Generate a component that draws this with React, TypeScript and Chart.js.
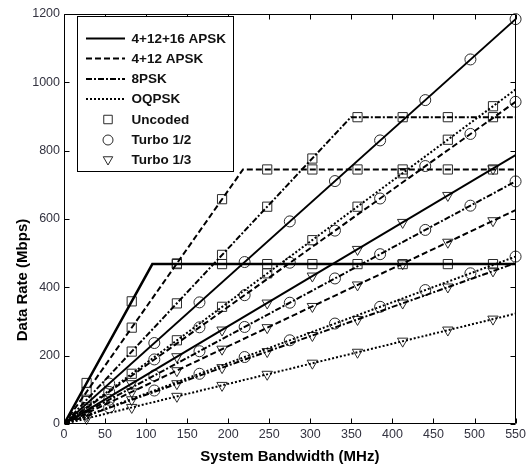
import React, { useEffect, useRef } from 'react';
import { Chart, registerables } from 'chart.js';

Chart.register(...registerables);

const FONT = "Arial, 'Liberation Sans', Helvetica, sans-serif";

// ---- marker x positions (MHz) ----
const markerXOffset = [27.5, 82.5, 137.5, 192.5, 247.5, 302.5, 357.5, 412.5, 467.5, 522.5];
const markerXEven = [55, 110, 165, 220, 275, 330, 385, 440, 495, 550];

// ---- Uncoded (squares), values at markerXOffset ----
const apsk32Uncoded = [120, 359, 468, 468, 468, 468, 468, 468, 468, 468];
const apsk16Uncoded = [94, 282, 470, 658, 745, 745, 745, 745, 745, 745];
const psk8Uncoded = [71, 212, 353, 495, 636, 777, 898, 898, 898, 898];
const oqpskUncoded = [49, 147, 245, 343, 441, 538, 636, 734, 832, 930];

// ---- Turbo 1/2 (circles), values at markerXEven ----
const apsk32Turbo12 = [118.5, 237, 356, 474, 593, 711, 830, 948, 1067, 1185];
const apsk16Turbo12 = [94, 189, 283, 377, 472, 566, 660, 755, 849, 943];
const psk8Turbo12 = [71, 142, 213, 284, 355, 426, 497, 568, 639, 710];
const oqpskTurbo12 = [49, 98, 147, 196, 245, 294, 343, 392, 441, 490];

// ---- Turbo 1/3 (triangles), values at markerXOffset ----
const apsk32Turbo13 = [39, 118, 197, 275, 354, 433, 511, 590, 669, 747];
const apsk16Turbo13 = [31, 94, 156, 219, 282, 344, 407, 469, 532, 595];
const psk8Turbo13 = [24, 71, 118, 165, 212, 259, 306, 354, 401, 448];
const oqpskTurbo13 = [16, 48.5, 81, 113, 145.5, 178, 210, 242.5, 275, 307];

// ---- line paths [x, y] ----
const apsk32UncodedPath = [[0, 0], [107.6, 468], [550, 468]];
const apsk16UncodedPath = [[0, 0], [218, 745], [550, 745]];
const psk8UncodedPath = [[0, 0], [349.4, 898], [550, 898]];
const oqpskUncodedPath = [[0, 0], [550, 979]];
const apsk32Turbo12Path = [[0, 0], [550, 1185]];
const apsk16Turbo12Path = [[0, 0], [550, 943]];
const psk8Turbo12Path = [[0, 0], [550, 710]];
const oqpskTurbo12Path = [[0, 0], [550, 490]];
const apsk32Turbo13Path = [[0, 0], [550, 787]];
const apsk16Turbo13Path = [[0, 0], [550, 626]];
const psk8Turbo13Path = [[0, 0], [550, 471]];
const oqpskTurbo13Path = [[0, 0], [550, 323]];

// ---- legend texts ----
const modulationLabels = ['4+12+16 APSK', '4+12 APSK', '8PSK', 'OQPSK'];
const codingLabels = ['Uncoded', 'Turbo 1/2', 'Turbo 1/3'];

// ---- axis texts ----
const xTitle = 'System Bandwidth (MHz)';
const yTitle = 'Data Rate (Mbps)';

const DASH_SOLID: number[] = [];
const DASH_DASHED = [6, 3];
const DASH_DASHDOT = [6, 2, 2, 2];
const DASH_DOTTED = [2, 2];
const modulationDashes = [DASH_SOLID, DASH_DASHED, DASH_DASHDOT, DASH_DOTTED];
const codingStyles = ['rect', 'circle', 'triangle'];

type S = { path: number[][]; xs: number[]; ys: number[]; mod: number; cod: number; width?: number };

const series: S[] = [
  { path: apsk32UncodedPath, xs: markerXOffset, ys: apsk32Uncoded, mod: 0, cod: 0, width: 2.5 },
  { path: apsk16UncodedPath, xs: markerXOffset, ys: apsk16Uncoded, mod: 1, cod: 0 },
  { path: psk8UncodedPath, xs: markerXOffset, ys: psk8Uncoded, mod: 2, cod: 0 },
  { path: oqpskUncodedPath, xs: markerXOffset, ys: oqpskUncoded, mod: 3, cod: 0 },
  { path: apsk32Turbo12Path, xs: markerXEven, ys: apsk32Turbo12, mod: 0, cod: 1 },
  { path: apsk16Turbo12Path, xs: markerXEven, ys: apsk16Turbo12, mod: 1, cod: 1 },
  { path: psk8Turbo12Path, xs: markerXEven, ys: psk8Turbo12, mod: 2, cod: 1 },
  { path: oqpskTurbo12Path, xs: markerXEven, ys: oqpskTurbo12, mod: 3, cod: 1 },
  { path: apsk32Turbo13Path, xs: markerXOffset, ys: apsk32Turbo13, mod: 0, cod: 2 },
  { path: apsk16Turbo13Path, xs: markerXOffset, ys: apsk16Turbo13, mod: 1, cod: 2 },
  { path: psk8Turbo13Path, xs: markerXOffset, ys: psk8Turbo13, mod: 2, cod: 2 },
  { path: oqpskTurbo13Path, xs: markerXOffset, ys: oqpskTurbo13, mod: 3, cod: 2 },
];

const markerRadius = [6.5, 5.5, 6];
const MARKER_COLOR = '#2a2a2a';

function drawMarker(ctx: CanvasRenderingContext2D, style: string, x: number, y: number, r: number) {
  ctx.beginPath();
  if (style === 'rect') {
    const s = r * Math.SQRT1_2;
    ctx.rect(x - s, y - s, 2 * s, 2 * s);
  } else if (style === 'circle') {
    ctx.arc(x, y, r, 0, Math.PI * 2);
  } else {
    const h = r * Math.sin(Math.PI / 3);
    ctx.moveTo(x, y + r);
    ctx.lineTo(x + h, y - r / 2);
    ctx.lineTo(x - h, y - r / 2);
    ctx.closePath();
  }
  ctx.stroke();
}

const framePlugin = {
  id: 'frameAndLegend',
  afterDatasetsDraw(chart: any) {
    const { ctx, chartArea, scales } = chart;
    const { left, right, top, bottom } = chartArea;
    const xs = scales.x;
    const ys = scales.y;
    ctx.save();
    ctx.strokeStyle = '#000';
    ctx.lineWidth = 1;
    ctx.setLineDash([]);
    const L = Math.round(left) + 0.5;
    const R = Math.round(right) - 0.5;
    const T = Math.round(top) + 0.5;
    const B = Math.round(bottom) - 0.5;
    ctx.beginPath();
    ctx.rect(L, T, R - L, B - T);
    ctx.stroke();
    const tl = 5;
    ctx.beginPath();
    xs.ticks.forEach((t: any) => {
      const px = Math.round(xs.getPixelForValue(t.value)) + 0.5;
      ctx.moveTo(px, B);
      ctx.lineTo(px, B - tl);
      ctx.moveTo(px, T);
      ctx.lineTo(px, T + tl);
    });
    ys.ticks.forEach((t: any) => {
      const py = Math.round(ys.getPixelForValue(t.value)) + 0.5;
      ctx.moveTo(L, py);
      ctx.lineTo(L + tl, py);
      ctx.moveTo(R, py);
      ctx.lineTo(R - tl, py);
    });
    ctx.stroke();

    // legend box
    const bx = 77.5, by = 16.5, bw = 156, bh = 155;
    ctx.fillStyle = '#fff';
    ctx.fillRect(bx, by, bw, bh);
    ctx.strokeStyle = '#000';
    ctx.strokeRect(bx, by, bw, bh);
    const rowsY = [38.5, 58.5, 79, 99, 119.5, 140, 159.5];
    ctx.font = `bold 13.5px ${FONT}`;
    ctx.textBaseline = 'middle';
    ctx.textAlign = 'left';
    ctx.fillStyle = '#111';
    modulationLabels.forEach((lab, i) => {
      const y = rowsY[i];
      ctx.save();
      ctx.strokeStyle = '#000';
      ctx.lineWidth = 2;
      ctx.setLineDash(modulationDashes[i]);
      ctx.beginPath();
      ctx.moveTo(86, y);
      ctx.lineTo(125, y);
      ctx.stroke();
      ctx.restore();
      ctx.fillText(lab, 131.5, y + 0.5);
    });
    codingLabels.forEach((lab, j) => {
      const y = rowsY[4 + j];
      ctx.save();
      ctx.strokeStyle = MARKER_COLOR;
      ctx.lineWidth = 1;
      ctx.setLineDash([]);
      drawMarker(ctx, codingStyles[j], 108, y, markerRadius[j] - 0.5);
      ctx.restore();
      ctx.fillText(lab, 131.5, y + 0.5);
    });
    ctx.restore();
  },
  afterDraw(chart: any) {
    const { ctx } = chart;
    ctx.save();
    ctx.translate(23, 280);
    ctx.rotate(-Math.PI / 2);
    ctx.font = `bold 15px ${FONT}`;
    ctx.fillStyle = '#000';
    ctx.textAlign = 'center';
    ctx.textBaseline = 'middle';
    ctx.fillText(yTitle, 0, 0);
    ctx.restore();
  },
};

export default function App() {
  const ref = useRef<HTMLCanvasElement>(null);
  useEffect(() => {
    const datasets: any[] = [];
    series.forEach((s) => {
      datasets.push({
        data: s.path.map(([x, y]) => ({ x, y })),
        showLine: true,
        borderColor: '#000',
        borderWidth: s.width ?? 2,
        borderDash: modulationDashes[s.mod],
        pointRadius: 0,
        pointHoverRadius: 0,
        tension: 0,
        fill: false,
      });
    });
    series.forEach((s) => {
      const style = codingStyles[s.cod];
      datasets.push({
        data: s.xs.map((x, i) => ({ x, y: s.ys[i] })),
        showLine: false,
        pointStyle: style,
        pointRotation: style === 'triangle' ? 180 : 0,
        pointRadius: markerRadius[s.cod],
        pointHoverRadius: markerRadius[s.cod],
        pointBorderColor: MARKER_COLOR,
        pointBackgroundColor: 'rgba(0,0,0,0)',
        pointBorderWidth: 1,
        clip: false,
      });
    });
    const chart = new Chart(ref.current as HTMLCanvasElement, {
      type: 'scatter',
      data: { datasets },
      options: {
        responsive: false,
        animation: false,
        devicePixelRatio: 1,
        events: [],
        layout: { padding: { top: 14, right: 11, left: 0, bottom: 0 } },
        plugins: { legend: { display: false }, tooltip: { enabled: false }, title: { display: false } },
        scales: {
          x: {
            type: 'linear',
            min: 0,
            max: 550,
            ticks: { stepSize: 50, font: { family: FONT, size: 12.5 }, color: '#333340', padding: 3, maxRotation: 0, autoSkip: false, callback: (v: any) => String(v) },
            grid: { display: false, drawTicks: false },
            border: { display: false },
            title: { display: true, text: xTitle, font: { family: FONT, size: 15, weight: 'bold' }, color: '#000', padding: { top: 0, bottom: 2 } },
            afterFit: (s: any) => { s.height = 44; },
          },
          y: {
            type: 'linear',
            min: 0,
            max: 1200,
            ticks: { stepSize: 200, font: { family: FONT, size: 12.5 }, color: '#333340', padding: 4, callback: (v: any) => String(v) },
            grid: { display: false, drawTicks: false },
            border: { display: false },
            afterFit: (s: any) => { s.width = 64; },
          },
        },
      } as any,
      plugins: [framePlugin],
    });
    return () => chart.destroy();
  }, []);
  return (
    <div style={{ position: 'fixed', left: 0, top: 0, width: 529, height: 468, background: '#fff' }}>
      <canvas ref={ref} width={529} height={468} style={{ display: 'block', width: 529, height: 468 }} />
    </div>
  );
}
